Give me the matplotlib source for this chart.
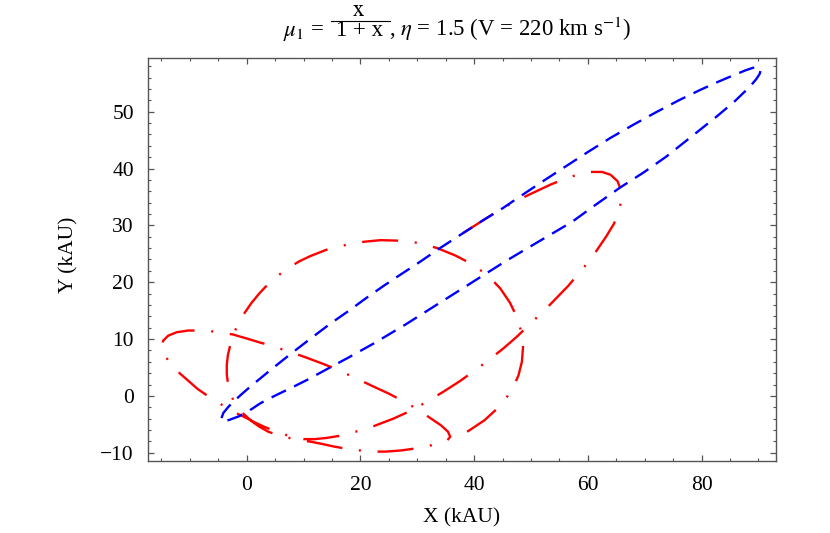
import numpy as np
import matplotlib.pyplot as plt
from matplotlib.lines import Line2D
from matplotlib.ticker import MultipleLocator

plt.rcParams['font.family'] = ['Liberation Serif', 'DejaVu Serif']
plt.rcParams['mathtext.fontset'] = 'stix'
plt.rcParams['lines.scale_dashes'] = False

# orbit points (kAU)
blue_x = [-4.4, -4.1, -3.2, -2.3, -1.0, 0.6, 4.0, 7.5, 11.0, 14.7, 18.0, 21.0, 24.0, 27.0,
          30.5, 34.0, 38.0, 41.9, 45.0, 47.8, 52.0, 56.3, 60.0, 64.0, 68.0, 72.0, 76.0,
          79.7, 83.0, 85.6, 87.8, 89.3, 90.1, 90.4, 90.2, 89.6, 88.5, 85.8, 82.6, 78.2,
          73.8, 69.8, 65.6, 61.2, 57.2, 51.6, 45.7, 40.0, 34.0, 28.0, 22.3, 18.0, 14.1,
          10.6, 8.2, 4.7, 2.4, 0.6, -1.4, -3.0, -4.1, -4.5, -4.4]
blue_y = [-3.8, -3.0, -1.9, -1.0, 0.2, 1.6, 4.4, 7.2, 9.9, 12.7, 15.0, 17.2, 19.3, 21.3,
          23.6, 26.0, 28.6, 31.1, 33.0, 34.9, 37.7, 40.5, 42.9, 45.4, 47.7, 49.9, 52.0,
          53.8, 55.3, 56.4, 57.3, 57.8, 57.8, 57.3, 56.6, 55.7, 54.4, 51.8, 49.1, 45.6,
          42.1, 39.3, 36.6, 33.5, 30.6, 27.3, 23.8, 20.2, 16.4, 12.6, 9.2, 6.8, 4.7,
          2.8, 1.6, -0.1, -1.3, -2.5, -3.6, -4.2, -4.5, -4.3, -3.8]

red_x = [38.0, 41.9, 45.0, 48.0, 50.3, 53.5, 56.5, 58.5, 60.5, 62.5, 64.0, 65.2, 65.8, 65.9,
         65.5, 64.6, 63.2, 61.5, 59.3, 56.5, 53.2, 50.0, 47.5, 45.2, 42.8, 40.3, 37.5, 34.7,
         31.9, 29.1, 25.8, 22.4, 19.9, 16.5, 14.0, 12.0, 10.0, 8.0, 6.0, 4.5, 3.0, 1.5, 0.2,
         -1.5, -2.9, -5.0, -7.0, -8.6, -10.2, -11.8, -13.3, -14.4, -14.9, -14.7, -13.8,
         -12.3, -10.3, -8.0, -5.5, -2.4, 0.0, 2.3, 4.5, 6.5, 8.6, 10.6, 13.0, 15.3, 18.8,
         22.4, 25.0, 27.1, 29.8, 32.3, 34.2, 35.4, 35.8, 35.2, 34.2, 32.9, 30.0, 27.1, 24.5,
         22.4, 20.0, 17.6, 15.3, 13.5, 11.5, 9.5, 7.5, 5.5, 3.8, 2.2, 0.8, -0.4, -1.4, -2.3,
         -2.9, -3.3, -3.5, -3.5, -3.3, -2.9, -2.4, -1.6, -0.5, 0.8, 2.2, 3.6, 5.3, 7.3, 9.3,
         11.2, 14.0, 17.6, 20.5, 23.5, 27.1, 30.3, 33.5, 36.7, 39.0, 41.0, 42.8, 44.6, 46.3,
         47.5, 48.3, 48.6, 48.4, 47.8, 46.9, 45.9, 44.1, 41.8, 39.1, 37.0]
red_y = [28.6, 31.1, 33.0, 34.6, 35.7, 37.2, 38.4, 39.0, 39.4, 39.4, 38.9, 37.8, 36.3, 34.6,
         32.5, 30.3, 28.0, 25.5, 22.6, 19.3, 15.9, 12.8, 10.4, 8.4, 6.5, 4.6, 2.6, 0.8,
         -0.9, -2.5, -4.0, -5.3, -6.1, -7.0, -7.4, -7.6, -7.6, -7.2, -6.6, -6.0, -5.4, -4.7,
         -4.0, -3.2, -2.4, -1.2, 0.1, 1.2, 2.6, 4.0, 5.6, 7.1, 8.5, 9.7, 10.6,
         11.2, 11.5, 11.5, 11.3, 10.8, 10.1, 9.4, 8.8, 8.1, 7.4, 6.7, 5.8, 4.9, 3.3,
         1.6, 0.4, -0.7, -2.2, -3.9, -5.2, -6.3, -7.2, -7.9, -8.3, -8.6, -9.2, -9.6, -9.8,
         -9.8, -9.6, -9.3, -8.9, -8.5, -8.1, -7.8, -7.4, -6.9, -6.3, -5.4, -4.4, -3.3, -2.3,
         -0.9, 0.6, 2.2, 3.8, 5.5, 7.2, 8.9, 10.6, 12.5, 14.4, 16.3, 18.0, 19.5, 21.0, 22.5,
         23.7, 24.6, 25.7, 26.6, 27.1, 27.4, 27.3, 26.9, 26.0, 24.7, 23.5, 22.2, 20.8, 18.9,
         16.4, 13.9, 11.3, 8.6, 6.0, 3.6, 1.6, 0.0, -2.2, -4.3, -6.1, -7.3]

x_ticks = [0, 20, 40, 60, 80]
y_ticks = [-10, 0, 10, 20, 30, 40, 50]

W, H = 830, 533
fig = plt.figure(figsize=(W / 100, H / 100), dpi=100)
ax = fig.add_axes([0.178, 0.1351, 0.757, 0.7567])

ax.plot(red_x, red_y, color='#ff0000', lw=1.7, dashes=(26, 12, 1.5, 12))
ax.plot(blue_x, blue_y, color='#0000ff', lw=1.7, dashes=(11.5, 6.5))

ax.set_xlim(-17.4, 93.1)
ax.set_ylim(-11.45, 59.5)
ax.set_xticks(x_ticks)
ax.set_yticks(y_ticks)
ax.xaxis.set_minor_locator(MultipleLocator(5))
ax.yaxis.set_minor_locator(MultipleLocator(2))
ax.tick_params(which='both', direction='in', top=True, right=True, color='#555555',
               labelsize=15.5)
ax.tick_params(which='major', length=4.5, width=0.9)
ax.tick_params(which='minor', length=2.5, width=0.8)
ax.tick_params(axis='x', pad=11)
ax.tick_params(axis='y', pad=10)
for s in ax.spines.values():
    s.set_color('#555555')
    s.set_linewidth(1.0)

ax.set_xlabel('X (kAU)', fontsize=15.5, va='center')
ax.xaxis.set_label_coords(0.5, -0.141)
ax.set_ylabel('Y (kAU)', fontsize=15.5, va='center')
ax.yaxis.set_label_coords(-0.125, 0.51)

# title built from pieces so the fraction sits like the original
def px(x, y):
    return x / W, 1 - y / H

fs = 16.5
fig.text(*px(283, 36), r'$\mu_1$ =', fontsize=fs, ha='left', va='baseline')
fig.text(*px(358, 16), r'$\mathrm{x}$', fontsize=fs, ha='center', va='baseline')
fig.text(*px(360, 36.5), '1 + x', fontsize=fs, ha='center', va='baseline')
bx0, by0 = px(331, 20.5)
bx1, _ = px(390, 20.5)
fig.add_artist(Line2D([bx0, bx1], [by0, by0], transform=fig.transFigure,
                      color='black', lw=0.8))
fig.text(*px(389, 36), r', $\eta$ = 1.5 (V = 220 km s$^{-1}$)', fontsize=fs,
         ha='left', va='baseline')

fig.savefig('out.png', dpi=100)
